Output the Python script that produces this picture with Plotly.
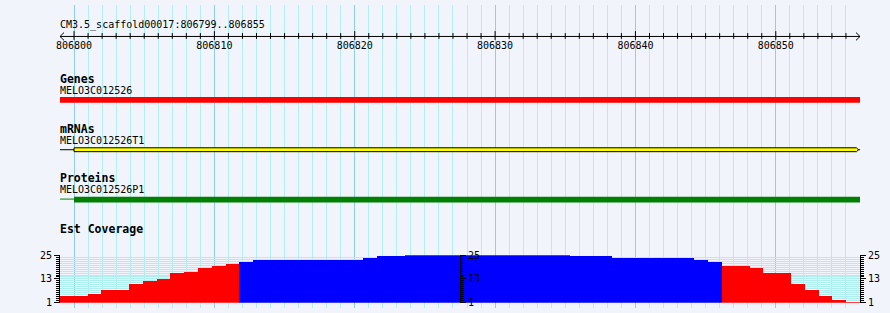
import plotly.graph_objects as go

# ---------------- data ----------------
region_label = "CM3.5_scaffold00017:806799..806855"
view_start = 806799
view_end = 806856
ruler_major = [806800, 806810, 806820, 806830, 806840, 806850]
ruler_minor = list(range(806800, 806856))

gene_label = "MELO3C012526"
gene_span = [806790, 806865]
mrna_label = "MELO3C012526T1"
mrna_span = [806790, 806865]
mrna_exon = [806800, 806855.75]
protein_label = "MELO3C012526P1"
protein_span = [806790, 806865]
protein_cds = [806800, 806856]

track_titles = ["Genes", "mRNAs", "Proteins", "Est Coverage"]

# Est coverage: 58 bins starting at 806799
cov_start = 806799
cov_values = [4.2, 4.2, 5.2, 7.1, 7.1, 10.1, 12.0, 13.0, 15.7, 16.6,
              18.6, 19.6, 20.6, 21.5, 22.5, 22.5, 22.5, 22.5, 22.5, 22.5,
              22.5, 22.5, 23.5, 24.5, 24.5, 25.0, 25.0, 25.0, 25.0, 25.0,
              25.0, 25.0, 25.0, 25.0, 25.0, 25.0, 25.0, 24.5, 24.5, 24.5,
              23.5, 23.5, 23.5, 23.5, 23.5, 23.5, 22.5, 21.5, 19.6, 19.6,
              18.6, 15.7, 15.7, 10.1, 7.1, 4.2, 2.2, 1.0]
cov_min, cov_max = 1, 25
cov_pivot = 21

# ---------------- styling / layout constants ----------------
W, H = 890, 313
L, R = 60, 30
BG = "#f1f5fb"
MINOR_GRID = "#b2eef2"
MAJOR_GRID = "#90ccf0"
COV_GRID = "#aeeeee"
MONO = "DejaVu Sans Mono"
bp_per_px = (view_end - view_start) / (W - L - R)

ROW = dict(title=21, ruler=32.5, ticklab=43,
           genes_t=76, genes_n=88, gene_bar=(95, 101),
           mrna_t=128, mrna_n=140, mrna_box=(147.5, 151.5), mrna_line=149.5,
           prot_t=179, prot_n=191, prot_bar=(198, 204), prot_line=200.5,
           cov_t=231, cov_bottom_px=307.5, cov_top_px=258.5)

fig = go.Figure()


def rect(x0, x1, y0, y1, fill):
    fig.add_trace(go.Scatter(
        x=[x0, x1, x1, x0, x0], y=[y0, y0, y1, y1, y0], mode="lines",
        fill="toself", fillcolor=fill, line=dict(color=fill, width=0),
        hoverinfo="skip", showlegend=False))


def hline(x0, x1, y, color, width=1):
    fig.add_trace(go.Scatter(x=[x0, x1], y=[y, y], mode="lines",
                             line=dict(color=color, width=width),
                             hoverinfo="skip", showlegend=False))


# ---- ruler ----
hline(view_start, view_end, ROW["ruler"], "black")
tx, ty = [], []
for p in ruler_minor:
    big = p in ruler_major
    tx += [p, p, None]
    ty += ([27, 36] if big else [29, 35]) + [None]
a = 4 * bp_per_px
tx += [view_start + a, view_start, view_start + a, None,
       view_end - a, view_end, view_end - a]
ty += [28.5, ROW["ruler"], 36.5, None, 28.5, ROW["ruler"], 36.5]
fig.add_trace(go.Scatter(x=tx, y=ty, mode="lines",
                         line=dict(color="black", width=1),
                         hoverinfo="skip", showlegend=False))
fig.add_trace(go.Scatter(x=ruler_major, y=[ROW["ticklab"]] * len(ruler_major),
                         mode="text", text=[str(v) for v in ruler_major],
                         textposition="middle center", cliponaxis=False,
                         textfont=dict(family=MONO, size=10, color="black"),
                         hoverinfo="skip", showlegend=False))

# ---- gene ----
rect(gene_span[0], gene_span[1], *ROW["gene_bar"], "#ff0000")
# ---- mRNA ----
hline(mrna_span[0], mrna_span[1], ROW["mrna_line"], "black")
y0, y1 = ROW["mrna_box"]
ym = (y0 + y1) / 2
tip = mrna_exon[1] + 2 * bp_per_px
fig.add_trace(go.Scatter(
    x=[mrna_exon[0], mrna_exon[1], tip, mrna_exon[1], mrna_exon[0], mrna_exon[0]],
    y=[y0, y0, ym, y1, y1, y0], mode="lines", fill="toself",
    fillcolor="#ffff00", line=dict(color="black", width=1),
    hoverinfo="skip", showlegend=False))
# ---- protein ----
hline(protein_span[0], protein_span[1], ROW["prot_line"], "#008000")
rect(protein_cds[0], protein_cds[1], *ROW["prot_bar"], "#008000")

# ---- coverage ----
cov_x = [cov_start + i + 0.5 for i in range(len(cov_values))]
cov_colors = ["#0000ff" if v >= cov_pivot else "#ff0000" for v in cov_values]
fig.add_trace(go.Bar(x=cov_x, y=cov_values, base=0, width=1,
                     marker=dict(color=cov_colors, line=dict(width=0)),
                     xaxis="x2", yaxis="y2", hoverinfo="skip",
                     showlegend=False))
for ax in ("y3", "y4"):
    fig.add_trace(go.Scatter(x=[None], y=[None], xaxis="x2", yaxis=ax,
                             showlegend=False, hoverinfo="skip"))

# ---- texts ----
ann = []


def label(text, y, bold=False):
    ann.append(dict(text=f"<b>{text}</b>" if bold else text, x=0, xref="paper",
                    y=y, yref="y", xanchor="left", yanchor="middle",
                    showarrow=False, xshift=-2,
                    font=dict(family=MONO, size=11.5 if bold else 10,
                              color="black")))


label(region_label, ROW["title"])
label(track_titles[0], ROW["genes_t"], True)
label(gene_label, ROW["genes_n"])
label(track_titles[1], ROW["mrna_t"], True)
label(mrna_label, ROW["mrna_n"])
label(track_titles[2], ROW["prot_t"], True)
label(protein_label, ROW["prot_n"])
label(track_titles[3], ROW["cov_t"], True)

cov_dom = [(H - ROW["cov_bottom_px"]) / H, (H - ROW["cov_top_px"]) / H]
cov_axis = dict(range=[cov_min, cov_max], tickmode="linear",
                tick0=1, dtick=12, ticks="outside", ticklen=5,
                tickcolor="black", showline=True, linecolor="black",
                linewidth=1, zeroline=False, fixedrange=True,
                tickfont=dict(family=MONO, size=10, color="black"))
minor_noline = dict(tickmode="linear", tick0=1, dtick=1, ticks="outside",
                    ticklen=3, tickcolor="black", showgrid=False)

fig.update_layout(
    width=W, height=H, autosize=False,
    margin=dict(l=L, r=R, t=0, b=0, pad=0),
    paper_bgcolor=BG, plot_bgcolor="rgba(0,0,0,0)",
    showlegend=False, bargap=0, annotations=ann,
    xaxis=dict(range=[view_start, view_end], domain=[0, 1], showgrid=True,
               tickmode="linear", tick0=806800, dtick=10,
               gridcolor=MAJOR_GRID, gridwidth=1, showticklabels=False,
               ticks="", zeroline=False, showline=False,
               minor=dict(tickmode="linear", tick0=806799, dtick=1,
                          showgrid=True, gridcolor=MINOR_GRID, gridwidth=1,
                          ticks=""),
               anchor="y"),
    yaxis=dict(range=[H, 0], domain=[0, 1], visible=False, anchor="x",
               showgrid=False),
    xaxis2=dict(range=[cov_start, cov_start + len(cov_values)], domain=[0, 1],
                visible=False, showgrid=False, zeroline=False, anchor="y2"),
    yaxis2=dict(**cov_axis, domain=cov_dom, anchor="x2", side="left",
                showgrid=True, gridcolor=COV_GRID, gridwidth=1,
                minor=dict(tickmode="linear", tick0=1, dtick=1,
                           ticks="outside", ticklen=3, tickcolor="black",
                           showgrid=True, gridcolor=COV_GRID, gridwidth=1)),
    yaxis3=dict(**cov_axis, overlaying="y2", anchor="free", position=0.5,
                side="right", showgrid=False, minor=minor_noline),
    yaxis4=dict(**cov_axis, overlaying="y2", anchor="x2", side="right",
                showgrid=False, minor=minor_noline),
)

fig.write_html("out.html", config={"displayModeBar": False})
